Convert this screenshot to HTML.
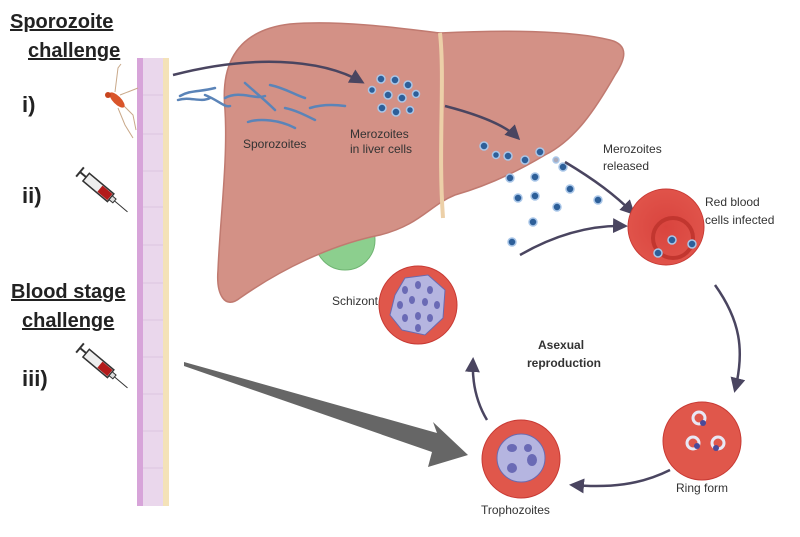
<!DOCTYPE html>
<html><head><meta charset="utf-8"><style>
body{margin:0;background:#fff}
svg text{font-family:"Liberation Sans",sans-serif}
</style></head><body>
<svg width="800" height="532" viewBox="0 0 800 532" xmlns="http://www.w3.org/2000/svg">
<defs>
<marker id="ah" viewBox="0 0 10 10" refX="8" refY="5" markerWidth="6" markerHeight="6" orient="auto"><path d="M0,0 L10,5 L0,10 z" fill="#4a4560"/></marker>
<radialGradient id="rbc" cx="50%" cy="50%" r="50%"><stop offset="0" stop-color="#d9443e"/><stop offset="1" stop-color="#e0534a"/></radialGradient>
</defs>
<!-- labels left -->
<text x="10" y="28" font-size="20" font-weight="bold" fill="#222" text-decoration="underline">Sporozoite</text>
<text x="28" y="57" font-size="20" font-weight="bold" fill="#222" text-decoration="underline">challenge</text>
<text x="22" y="112" font-size="22" font-weight="bold" fill="#222">i)</text>
<text x="22" y="203" font-size="22" font-weight="bold" fill="#222">ii)</text>
<text x="11" y="298" font-size="20" font-weight="bold" fill="#222" text-decoration="underline">Blood stage</text>
<text x="22" y="327" font-size="20" font-weight="bold" fill="#222" text-decoration="underline">challenge</text>
<text x="22" y="386" font-size="22" font-weight="bold" fill="#222">iii)</text>
<!-- skin -->
<rect x="137" y="58" width="32" height="448" fill="#ead7ec"/>
<rect x="137" y="58" width="6" height="448" fill="#d7a4d9"/>
<rect x="163" y="58" width="6" height="448" fill="#f4e2b8"/>
<g stroke="#dcc6e0" stroke-width="1"><line x1="143" y1="95" x2="163" y2="95"/><line x1="143" y1="134" x2="163" y2="134"/><line x1="143" y1="171" x2="163" y2="171"/><line x1="143" y1="207" x2="163" y2="207"/><line x1="143" y1="245" x2="163" y2="245"/><line x1="143" y1="283" x2="163" y2="283"/><line x1="143" y1="320" x2="163" y2="320"/><line x1="143" y1="357" x2="163" y2="357"/><line x1="143" y1="394" x2="163" y2="394"/><line x1="143" y1="431" x2="163" y2="431"/><line x1="143" y1="468" x2="163" y2="468"/></g>
<!-- mosquito -->
<g stroke="#c9a98a" stroke-width="1" fill="none"><path d="M115,92 L118,68 L121,64"/><path d="M120,95 L138,88"/><path d="M118,108 L125,125 L133,138"/><path d="M124,106 L133,115 L136,130"/></g>
<ellipse cx="117" cy="100" rx="10" ry="4" transform="rotate(45 117 100)" fill="#d9552a"/>
<circle cx="108" cy="95" r="3" fill="#c8451e"/>
<!-- syringes -->
<g id="syr"><g transform="translate(80,172) rotate(40)"><line x1="0" y1="-6" x2="0" y2="6" stroke="#333" stroke-width="2"/><line x1="0" y1="0" x2="8" y2="0" stroke="#333" stroke-width="2"/><rect x="8" y="-5" width="32" height="10" fill="#eee" stroke="#333" stroke-width="1.5"/><rect x="26" y="-4" width="13" height="8" fill="#b31b1b"/><rect x="40" y="-2.5" width="5" height="5" fill="#ddd" stroke="#333"/><line x1="45" y1="0" x2="62" y2="0" stroke="#333" stroke-width="1"/></g></g>
<use href="#syr" transform="translate(0,176)"/>
<!-- liver -->
<circle cx="345" cy="240" r="30" fill="#8ccf8e" stroke="#6fb472"/>
<path d="M225,110 C220,60 240,30 290,24 C340,20 400,28 440,33 C500,30 570,30 610,40 C630,45 625,60 615,75 C595,110 575,140 545,155 C520,170 490,185 455,195 C430,205 420,225 380,235 C330,245 280,270 240,298 C225,310 216,295 218,270 C220,220 228,160 225,110 Z" fill="#d39186" stroke="#c07a70" stroke-width="1.5"/>
<path d="M440,33 C445,80 438,150 443,218" stroke="#ecd0a8" stroke-width="4" fill="none"/>
<!-- sporozoites -->
<g stroke="#5b84b8" stroke-width="2.5" fill="none" stroke-linecap="round">
<path d="M180,96 C190,90 200,92 215,88"/><path d="M178,100 C190,96 200,103 210,98"/><path d="M205,95 C218,100 225,108 230,106"/>
<path d="M225,98 C240,90 255,100 265,96"/><path d="M245,83 C255,92 265,100 275,110"/><path d="M270,85 C285,88 295,95 305,98"/>
<path d="M285,108 C295,110 305,115 315,120"/><path d="M310,108 C320,105 330,104 345,106"/><path d="M248,122 C260,118 280,120 295,128"/>
</g>
<text x="243" y="148" font-size="12" fill="#333">Sporozoites</text>
<text x="350" y="138" font-size="12" fill="#333">Merozoites</text>
<text x="350" y="153" font-size="12" fill="#333">in liver cells</text>
<!-- merozoites -->
<g fill="#2d5f99" stroke="#a9c6e8" stroke-width="1.5">
<circle cx="381" cy="79" r="4"/><circle cx="395" cy="80" r="4"/><circle cx="408" cy="85" r="4"/><circle cx="372" cy="90" r="3.5"/><circle cx="388" cy="95" r="4"/><circle cx="402" cy="98" r="4"/><circle cx="416" cy="94" r="3.5"/><circle cx="382" cy="108" r="4"/><circle cx="396" cy="112" r="4"/><circle cx="410" cy="110" r="3.5"/>
<circle cx="484" cy="146" r="4"/><circle cx="496" cy="155" r="3.5"/><circle cx="508" cy="156" r="4"/><circle cx="525" cy="160" r="4"/><circle cx="540" cy="152" r="4"/>
<circle cx="510" cy="178" r="4"/><circle cx="535" cy="177" r="4"/><circle cx="563" cy="167" r="4"/><circle cx="518" cy="198" r="4"/><circle cx="535" cy="196" r="4"/><circle cx="570" cy="189" r="4"/><circle cx="598" cy="200" r="4"/><circle cx="557" cy="207" r="4"/><circle cx="533" cy="222" r="4"/><circle cx="512" cy="242" r="4"/><circle cx="556" cy="160" r="3" fill="#aab"/>
</g>
<!-- thin arrows -->
<path d="M173,75 C250,55 320,58 362,82" stroke="#4a4560" stroke-width="2.5" fill="none" marker-end="url(#ah)"/>
<path d="M445,106 C480,115 505,125 518,138" stroke="#4a4560" stroke-width="2.5" fill="none" marker-end="url(#ah)"/>
<path d="M565,162 C595,180 615,195 633,213" stroke="#4a4560" stroke-width="2.5" fill="none" marker-end="url(#ah)"/>
<path d="M520,255 C555,235 590,225 625,226" stroke="#4a4560" stroke-width="2.5" fill="none" marker-end="url(#ah)"/>
<path d="M715,285 C740,320 745,350 735,390" stroke="#4a4560" stroke-width="2.5" fill="none" marker-end="url(#ah)"/>
<path d="M670,470 C640,485 610,488 572,485" stroke="#4a4560" stroke-width="2.5" fill="none" marker-end="url(#ah)"/>
<path d="M487,420 C475,400 472,380 473,360" stroke="#4a4560" stroke-width="2.5" fill="none" marker-end="url(#ah)"/>
<text x="603" y="153" font-size="12" fill="#333">Merozoites</text>
<text x="603" y="170" font-size="12" fill="#333">released</text>
<text x="705" y="206" font-size="12" fill="#333">Red blood</text>
<text x="705" y="224" font-size="12" fill="#333">cells infected</text>
<!-- gray big arrow -->
<path d="M184,362 L437,433 L433,422 L468,455 L428,467 L432,452 L184,366 Z" fill="#666"/>
<!-- cells -->
<circle cx="666" cy="227" r="38" fill="url(#rbc)" stroke="#c83a34"/>
<circle cx="673" cy="238" r="20" fill="none" stroke="#c2362f" stroke-width="4"/>
<g fill="#2d5f99" stroke="#a9c6e8" stroke-width="1.5"><circle cx="672" cy="240" r="4"/><circle cx="692" cy="244" r="4"/><circle cx="658" cy="253" r="4"/></g>
<circle cx="418" cy="305" r="39" fill="#e0574b" stroke="#c83a34"/>
<path d="M395,295 L405,278 L428,275 L445,290 L443,318 L425,335 L402,330 L390,315 Z" fill="#b5b5e0" stroke="#6a6ab0"/>
<g fill="#6a6ab5"><ellipse cx="405" cy="290" rx="3" ry="4"/><ellipse cx="418" cy="285" rx="3" ry="4"/><ellipse cx="430" cy="290" rx="3" ry="4"/><ellipse cx="400" cy="305" rx="3" ry="4"/><ellipse cx="412" cy="300" rx="3" ry="4"/><ellipse cx="425" cy="302" rx="3" ry="4"/><ellipse cx="437" cy="305" rx="3" ry="4"/><ellipse cx="405" cy="318" rx="3" ry="4"/><ellipse cx="418" cy="316" rx="3" ry="4"/><ellipse cx="430" cy="318" rx="3" ry="4"/><ellipse cx="418" cy="328" rx="3" ry="4"/></g>
<text x="378" y="305" font-size="12" fill="#333" text-anchor="end">Schizont</text>
<text x="538" y="349" font-size="12" font-weight="bold" fill="#333">Asexual</text>
<text x="527" y="367" font-size="12" font-weight="bold" fill="#333">reproduction</text>
<circle cx="702" cy="441" r="39" fill="#e0574b" stroke="#c83a34"/>
<g fill="none" stroke="#e8e8f5" stroke-width="3"><circle cx="699" cy="418" r="6"/><circle cx="693" cy="443" r="6"/><circle cx="718" cy="443" r="6"/></g>
<g fill="#4a4a9a"><circle cx="703" cy="423" r="3"/><circle cx="697" cy="446" r="3"/><circle cx="716" cy="448" r="3"/></g>
<text x="676" y="492" font-size="12" fill="#333">Ring form</text>
<circle cx="521" cy="459" r="39" fill="#e0574b" stroke="#c83a34"/>
<circle cx="521" cy="458" r="24" fill="#b5b5e0" stroke="#6a6ab0"/>
<g fill="#6a6ab5"><ellipse cx="512" cy="448" rx="5" ry="4"/><ellipse cx="528" cy="448" rx="4" ry="4"/><ellipse cx="512" cy="468" rx="5" ry="5"/><ellipse cx="532" cy="460" rx="5" ry="6"/></g>
<text x="481" y="514" font-size="12" fill="#333">Trophozoites</text>
</svg>
</body></html>
